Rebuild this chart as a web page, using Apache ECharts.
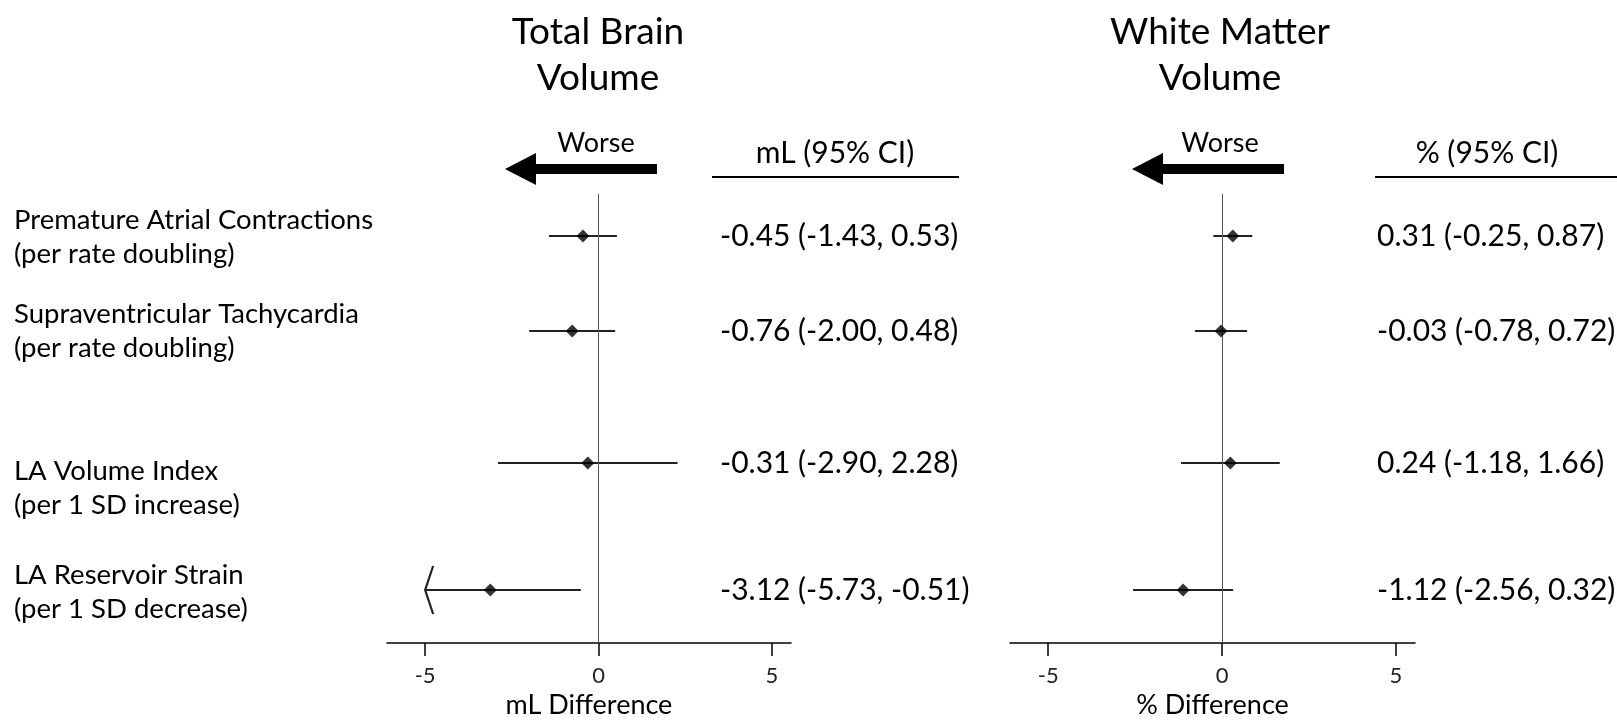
<!DOCTYPE html>
<html>
<head>
<meta charset="utf-8">
<script src="https://cdn.jsdelivr.net/npm/echarts@6/dist/echarts.min.js"></script>
<style>
html, body { margin: 0; background: #fff; }
#main { width: 1617px; height: 720px; }
</style>
</head>
<body>
<div id="main"></div>
<script>
// row labels
var rowNames = [
    'Premature Atrial Contractions\n(per rate doubling)',
    'Supraventricular Tachycardia\n(per rate doubling)',
    'LA Volume Index\n(per 1 SD increase)',
    'LA Reservoir Strain\n(per 1 SD decrease)'
];
// total brain volume, mL difference
var tbvEst  = [-0.45, -0.76, -0.31, -3.12];
var tbvLow  = [-1.43, -2.00, -2.90, -5.73];
var tbvHigh = [0.53, 0.48, 2.28, -0.51];
// white matter volume, % difference
var wmvEst  = [0.31, -0.03, 0.24, -1.12];
var wmvLow  = [-0.25, -0.78, -1.18, -2.56];
var wmvHigh = [0.87, 0.72, 1.66, 0.32];
var xTicks = [-5, 0, 5];

// layout (pixels from top of plot area)
var rowPos = [42, 137, 269, 396];
var labelPos = [43, 137, 294, 398];
var clipLo = -5;

var FONT = 'Lato';
var chart = echarts.init(document.getElementById('main'));

function buildData(est, lo, hi) {
    var d = [];
    for (var i = 0; i < est.length; i++) {
        d.push([est[i], lo[i], hi[i], rowPos[i], labelPos[i], i]);
    }
    return d;
}

function makeRender(textX, withLabels) {
    return function (params, api) {
        var est = api.value(0), lo = api.value(1), hi = api.value(2);
        var yv = api.value(3);
        var i = api.value(5);
        var truncated = lo < clipLo;
        var p0 = api.coord([truncated ? clipLo : lo, yv]);
        var p1 = api.coord([hi, yv]);
        var children = [{
            type: 'line',
            shape: { x1: p0[0], y1: p0[1], x2: p1[0], y2: p1[1] },
            style: { stroke: '#222', lineWidth: 2.2 }
        }];
        if (truncated) {
            children.push({
                type: 'polyline',
                shape: { points: [[p0[0] + 8, p0[1] - 24], [p0[0], p0[1]], [p0[0] + 8, p0[1] + 24]] },
                style: { stroke: '#222', lineWidth: 2.2, fill: null }
            });
        }
        var txt = est.toFixed(2) + ' (' + lo.toFixed(2) + ', ' + hi.toFixed(2) + ')';
        children.push({
            type: 'text',
            style: {
                x: textX, y: p0[1], text: txt, fill: '#000',
                font: '30px ' + FONT, verticalAlign: 'middle', align: 'left'
            }
        });
        if (withLabels) {
            var pl = api.coord([0, api.value(4)]);
            children.push({
                type: 'text',
                style: {
                    x: 14, y: pl[1], text: rowNames[i], fill: '#000',
                    font: '27.5px ' + FONT, lineHeight: 34,
                    verticalAlign: 'middle', align: 'left'
                }
            });
        }
        return { type: 'group', children: children };
    };
}

function xAxisOpt(idx, name) {
    return {
        gridIndex: idx, type: 'value', min: -6.1, max: 5.55,
        name: name, nameLocation: 'middle', nameGap: 47,
        nameTextStyle: { fontFamily: FONT, fontSize: 27, color: '#000' },
        axisLine: { onZero: false, lineStyle: { color: '#000', width: 1.5 } },
        axisTick: { customValues: xTicks, length: 13, lineStyle: { color: '#000', width: 1.5 } },
        axisLabel: { customValues: xTicks, margin: 22, fontFamily: FONT, fontSize: 22, color: '#222' },
        splitLine: { show: false }
    };
}

function yAxisOpt(idx) {
    return {
        gridIndex: idx, type: 'value', min: 0, max: 449, inverse: true,
        show: false, splitLine: { show: false }
    };
}

function zeroLine() {
    return {
        silent: true, symbol: 'none', label: { show: false },
        lineStyle: { color: '#555', width: 1, type: 'solid' },
        data: [{ xAxis: 0 }]
    };
}

var option = {
    backgroundColor: '#fff',
    animation: false,
    grid: [
        { left: 387, width: 404, top: 194, height: 449, outerBoundsMode: 'none', containLabel: false },
        { left: 1010, width: 405, top: 194, height: 449, outerBoundsMode: 'none', containLabel: false }
    ],
    xAxis: [xAxisOpt(0, 'mL Difference'), xAxisOpt(1, '% Difference')],
    yAxis: [yAxisOpt(0), yAxisOpt(1)],
    graphic: [
        { type: 'text', style: { x: 598, y: 55, text: 'Total Brain\nVolume', font: '37px ' + FONT, fill: '#000', align: 'center', verticalAlign: 'middle', lineHeight: 46 } },
        { type: 'text', style: { x: 1220, y: 55, text: 'White Matter\nVolume', font: '37px ' + FONT, fill: '#000', align: 'center', verticalAlign: 'middle', lineHeight: 46 } },
        { type: 'text', style: { x: 596, y: 143, text: 'Worse', font: '27px ' + FONT, fill: '#000', align: 'center', verticalAlign: 'middle' } },
        { type: 'text', style: { x: 1220, y: 143, text: 'Worse', font: '27px ' + FONT, fill: '#000', align: 'center', verticalAlign: 'middle' } },
        { type: 'polygon', shape: { points: [[505, 169], [536, 153], [536, 164], [657, 164], [657, 174], [536, 174], [536, 185]] }, style: { fill: '#000' } },
        { type: 'polygon', shape: { points: [[1132, 169], [1163, 153], [1163, 164], [1284, 164], [1284, 174], [1163, 174], [1163, 185]] }, style: { fill: '#000' } },
        { type: 'text', style: { x: 835, y: 153, text: 'mL (95% CI)', font: '30px ' + FONT, fill: '#000', align: 'center', verticalAlign: 'middle' } },
        { type: 'text', style: { x: 1487, y: 153, text: '% (95% CI)', font: '30px ' + FONT, fill: '#000', align: 'center', verticalAlign: 'middle' } },
        { type: 'line', shape: { x1: 712, y1: 177, x2: 959, y2: 177 }, style: { stroke: '#000', lineWidth: 2 } },
        { type: 'line', shape: { x1: 1375, y1: 177, x2: 1617, y2: 177 }, style: { stroke: '#000', lineWidth: 2 } }
    ],
    series: [
        {
            type: 'custom', xAxisIndex: 0, yAxisIndex: 0,
            renderItem: makeRender(720, true),
            data: buildData(tbvEst, tbvLow, tbvHigh),
            markLine: zeroLine()
        },
        {
            type: 'scatter', xAxisIndex: 0, yAxisIndex: 0,
            symbol: 'diamond', symbolSize: 13, itemStyle: { color: '#000' },
            data: tbvEst.map(function (v, i) { return [v, rowPos[i]]; }), z: 5
        },
        {
            type: 'custom', xAxisIndex: 1, yAxisIndex: 1,
            renderItem: makeRender(1377, false),
            data: buildData(wmvEst, wmvLow, wmvHigh),
            markLine: zeroLine()
        },
        {
            type: 'scatter', xAxisIndex: 1, yAxisIndex: 1,
            symbol: 'diamond', symbolSize: 13, itemStyle: { color: '#000' },
            data: wmvEst.map(function (v, i) { return [v, rowPos[i]]; }), z: 5
        }
    ]
};

chart.setOption(option);
</script>
</body>
</html>
